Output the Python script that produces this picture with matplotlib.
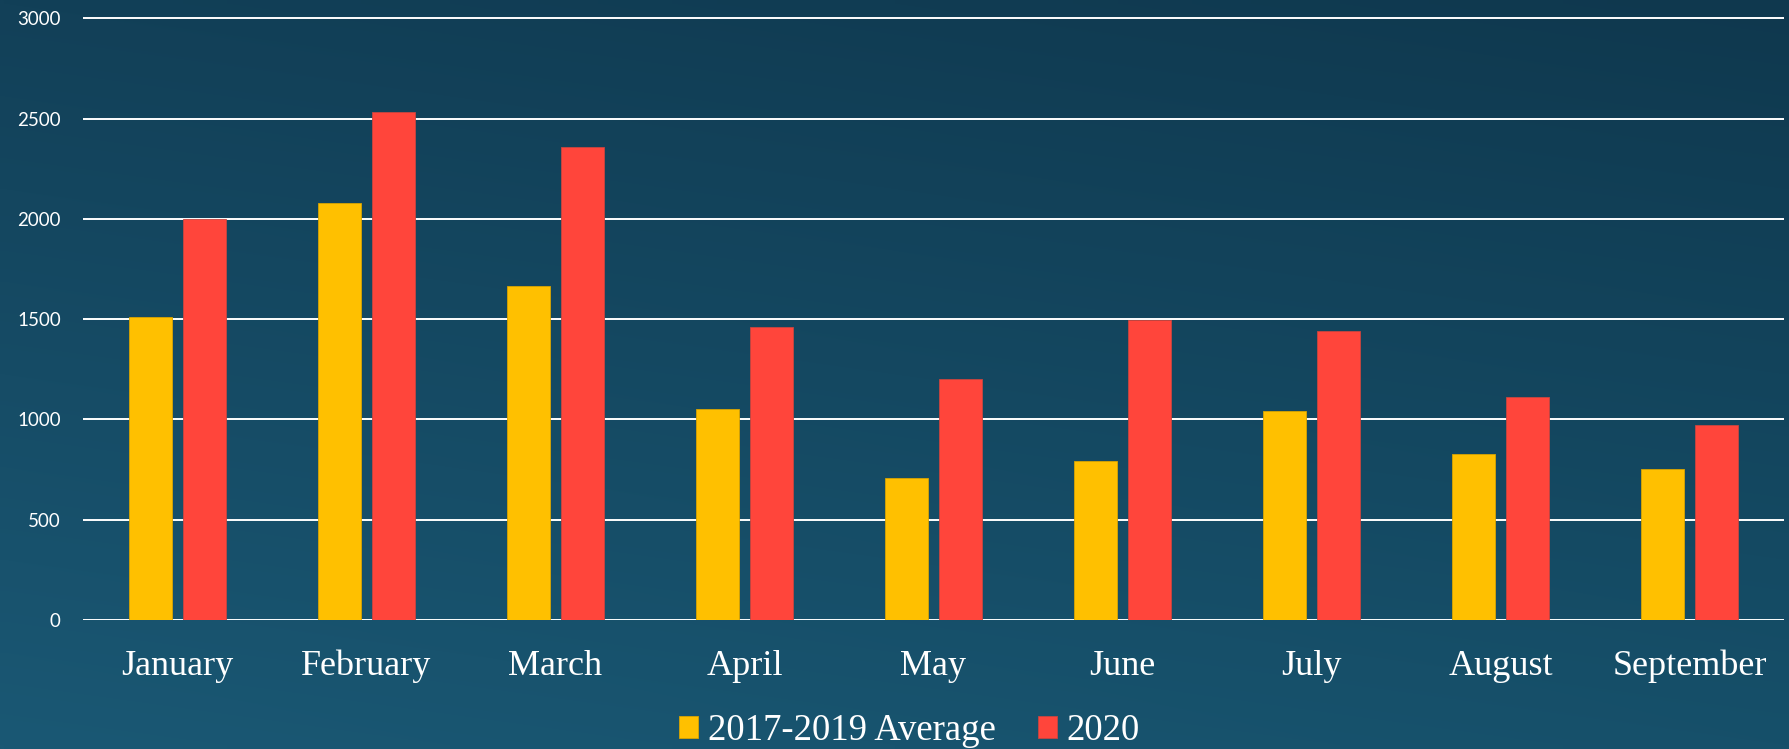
import numpy as np
import matplotlib
matplotlib.use("Agg")
from matplotlib import pyplot as plt

months = ["January", "February", "March", "April", "May", "June",
          "July", "August", "September"]
avg_2017_2019 = [1509, 2079, 1665, 1052, 708, 791, 1042, 828, 753]
y2020 = [2000, 2534, 2358, 1462, 1204, 1495, 1441, 1110, 974]
series_names = ["2017-2019 Average", "2020"]
yticks = [0, 500, 1000, 1500, 2000, 2500, 3000]

W, H = 1790, 749
fig = plt.figure(figsize=(W / 100, H / 100), dpi=100)

# background gradient (corner colours, bilinear)
bg = fig.add_axes([0, 0, 1, 1], zorder=-10)
tl = np.array([18, 64, 88]) / 255
tr = np.array([15, 56, 78]) / 255
bl = np.array([26, 88, 116]) / 255
br = np.array([22, 80, 106]) / 255
gx = np.linspace(0, 1, 200)[None, :, None]
gy = np.linspace(0, 1, 100)[:, None, None]
img = (1 - gy) * ((1 - gx) * tl + gx * tr) + gy * ((1 - gx) * bl + gx * br)
bg.imshow(img, aspect="auto", extent=[0, 1, 0, 1], interpolation="bilinear")
bg.axis("off")

top_px = 16.3
bottom_px = 620
ax = fig.add_axes([83 / W, 1 - bottom_px / H, (1784 - 83) / W, (bottom_px - top_px) / H])
ax.patch.set_alpha(0)

x = np.arange(len(months))
w = 0.224
off = 0.142
ax.bar(x - off, avg_2017_2019, w, color="#FFC000", edgecolor="#D9A400",
       linewidth=0.6, label=series_names[0], zorder=3)
ax.bar(x + off, y2020, w, color="#FF453B", edgecolor="#C8453F",
       linewidth=0.6, label=series_names[1], zorder=3)

ax.set_xlim(-0.5, len(months) - 0.5)
ax.set_ylim(0, 3010)
ax.set_yticks(yticks)
ax.set_yticklabels([str(v) for v in yticks], fontfamily="Lato", fontsize=13.5, color="white")
ax.set_xticks(x)
ax.set_xticklabels(months, fontfamily="Liberation Serif", fontsize=26, color="white")
ax.tick_params(axis="y", length=0, pad=16)
ax.tick_params(axis="x", length=0, pad=21.5)
ax.grid(axis="y", color="white", linewidth=1.4, zorder=1)
ax.set_axisbelow(True)
for s in ax.spines.values():
    s.set_visible(False)

leg = fig.legend(loc="lower center", bbox_to_anchor=(0.508, -0.043), ncol=2,
                 frameon=False, handlelength=0.53, handleheight=0.53,
                 handletextpad=0.25, columnspacing=1.15,
                 prop={"family": "Liberation Serif", "size": 26.5})
for t in leg.get_texts():
    t.set_color("white")

fig.savefig("out.png", dpi=100)
